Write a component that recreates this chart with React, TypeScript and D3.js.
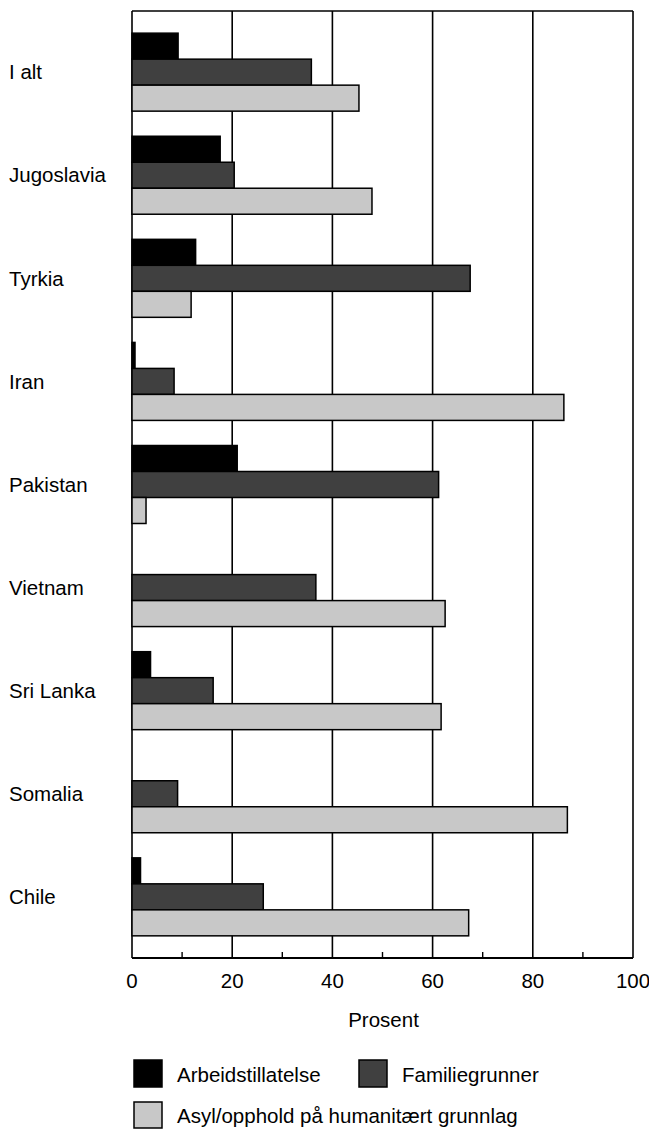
import React from "react";
import * as d3 from "d3";

const categories = ["I alt", "Jugoslavia", "Tyrkia", "Iran", "Pakistan", "Vietnam", "Sri Lanka", "Somalia", "Chile"];
const seriesNames = ["Arbeidstillatelse", "Familiegrunner", "Asyl/opphold på humanitært grunnlag"];
const arbeid = [9.2, 17.6, 12.7, 0.6, 21.0, 0, 3.7, 0, 1.7];
const familie = [35.8, 20.4, 67.5, 8.4, 61.2, 36.7, 16.2, 9.1, 26.2];
const asyl = [45.3, 47.9, 11.8, 86.2, 2.8, 62.5, 61.7, 86.9, 67.2];
const majorTicks = [0, 20, 40, 60, 80, 100];
const minorTicks = [10, 30, 50, 70, 90];
const axisLabel = "Prosent";

const seriesValues = [arbeid, familie, asyl];
const fills = ["#000000", "#404040", "#c8c8c8"];

export default function App() {
  const W = 649, H = 1131;
  const left = 132, right = 633, top = 11, bottom = 958;
  const x = d3.scaleLinear().domain([0, 100]).range([left, right]);
  const y = d3.scaleBand<string>().domain(categories).range([top, bottom]).paddingInner(0.2435).paddingOuter(0.215);
  const ys = d3.scaleBand<string>().domain(seriesNames).range([0, y.bandwidth()]).padding(0);
  const font = "'Liberation Sans', Arial, Helvetica, sans-serif";

  return (
    <svg width={W} height={H} style={{ position: "absolute", left: 0, top: 0, background: "#fff" }} fontFamily={font}>
      <line x1={left} x2={right} y1={top} y2={top} stroke="#000" strokeWidth={1.6} />
      {majorTicks.map((t) => (
        <line key={"g" + t} x1={x(t)} x2={x(t)} y1={top} y2={bottom} stroke="#000" strokeWidth={1.6} />
      ))}
      <line x1={left} x2={right} y1={bottom} y2={bottom} stroke="#000" strokeWidth={1.8} />
      {minorTicks.map((t) => (
        <line key={"m" + t} x1={x(t)} x2={x(t)} y1={bottom - 6} y2={bottom} stroke="#000" strokeWidth={1.4} />
      ))}
      {categories.map((c, i) => (
        <g key={c}>
          {seriesNames.map((s, k) => {
            const v = seriesValues[k][i];
            if (v <= 0) return null;
            return (
              <rect
                key={s}
                x={x(0)}
                y={(y(c) as number) + (ys(s) as number)}
                width={x(v) - x(0)}
                height={ys.bandwidth()}
                fill={fills[k]}
                stroke="#000"
                strokeWidth={1.5}
              />
            );
          })}
          <text
            x={9}
            y={(y(c) as number) + (ys(seriesNames[1]) as number) + ys.bandwidth() / 2}
            dy="0.35em"
            fontSize={20.5}
            fill="#000"
          >
            {c}
          </text>
        </g>
      ))}
      {majorTicks.map((t) => (
        <text key={"t" + t} x={x(t)} y={988} textAnchor="middle" fontSize={20.5} fill="#000">
          {t}
        </text>
      ))}
      <text x={(left + right) / 2 + 1} y={1027} textAnchor="middle" fontSize={20.5} fill="#000">
        {axisLabel}
      </text>
      <g>
        <rect x={134} y={1060} width={28} height={27} fill={fills[0]} stroke="#000" strokeWidth={1.5} />
        <text x={177} y={1082} fontSize={20.5} fill="#000">{seriesNames[0]}</text>
        <rect x={359} y={1060} width={28} height={27} fill={fills[1]} stroke="#000" strokeWidth={1.5} />
        <text x={402} y={1082} fontSize={20.5} fill="#000">{seriesNames[1]}</text>
        <rect x={134} y={1102} width={28} height={26} fill={fills[2]} stroke="#000" strokeWidth={1.5} />
        <text x={177} y={1123} fontSize={20.5} fill="#000">{seriesNames[2]}</text>
      </g>
    </svg>
  );
}
